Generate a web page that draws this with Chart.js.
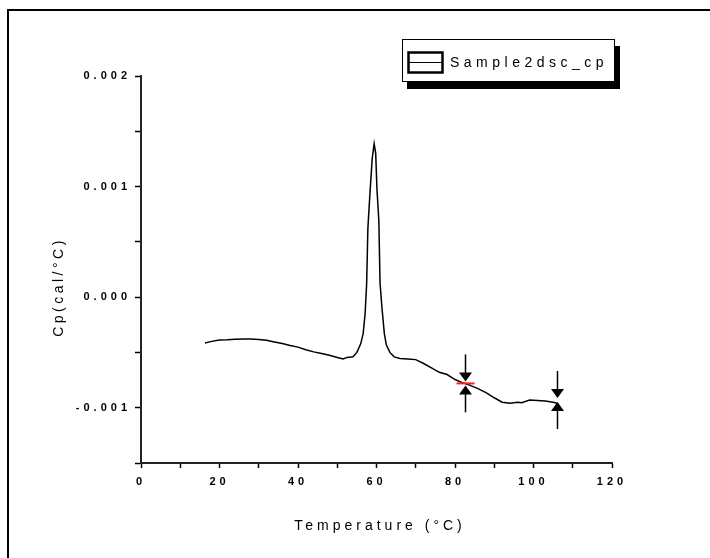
<!DOCTYPE html>
<html lang="en">
<head>
<meta charset="UTF-8">
<title>Sample2dsc_cp</title>
<script src="https://cdn.jsdelivr.net/npm/chart.js"></script>
<style>
    html, body { margin: 0; padding: 0; background: #fff; }
    #wrap { width: 710px; height: 558px; }
</style>
</head>
<body>
<div id="wrap"><canvas id="dscChart" width="710" height="558"></canvas></div>
<script>
// data
const seriesName = 'Sample2dsc_cp';
const temperature = [16.3, 18, 20, 22, 24, 26, 28, 30, 32, 34, 36, 38, 40, 42, 44, 46, 48, 50, 51.5, 52.5,
    54, 55, 56, 56.6, 57.1, 57.5, 57.8, 58.3, 58.9, 59.4, 59.8, 60.1, 60.6, 60.9, 61.4, 62, 62.5, 63.4, 64.5, 66,
    68, 70, 72, 74, 76, 78, 80, 82, 83, 84, 86, 88, 90, 92, 94, 96, 97, 99, 101, 103, 105, 106];
const cp = [-0.000414, -0.000400, -0.000388, -0.000385, -0.000380, -0.000378, -0.000378, -0.000382, -0.000390, -0.000405,
    -0.000420, -0.000438, -0.000452, -0.000475, -0.000495, -0.000510, -0.000525, -0.000545, -0.000560, -0.000545,
    -0.000540, -0.000500, -0.000420, -0.000330, -0.000150, 0.000130, 0.000620, 0.000920, 0.001250, 0.001387,
    0.001300, 0.000990, 0.000690, 0.000130, -0.000100, -0.000330, -0.000430, -0.000500, -0.000540, -0.000555,
    -0.000560, -0.000565, -0.000600, -0.000640, -0.000680, -0.000700, -0.000745, -0.000775, -0.000785, -0.000800,
    -0.000830, -0.000865, -0.000910, -0.000950, -0.000960, -0.000950, -0.000955, -0.000930, -0.000935, -0.000940,
    -0.000950, -0.000960];
const xTickLabels = ['0', '20', '40', '60', '80', '100', '120'];
const yTickLabels = ['-0.001', '0.000', '0.001', '0.002'];
// integration limits marked with arrows
const markerTemp = [82.5, 106];
const markerCp = [-0.00078, -0.00093];
const xTitle = 'Temperature (°C)';
const yTitle = 'Cp(cal/°C)';

const fontFamily = '"Liberation Sans", Arial, sans-serif';

// wide letter spacing like the old Origin export
const spacing = {
    id: 'spacing',
    beforeUpdate(chart) { chart.ctx.letterSpacing = '4px'; },
    beforeDraw(chart) { chart.ctx.letterSpacing = '4px'; }
};

function drawArrow(ctx, x, tipY, dir) {
    // dir 1 = pointing down, -1 = pointing up
    ctx.beginPath();
    ctx.moveTo(x, tipY - dir * 27);
    ctx.lineTo(x, tipY - dir * 8);
    ctx.stroke();
    ctx.beginPath();
    ctx.moveTo(x - 6.5, tipY - dir * 9);
    ctx.lineTo(x + 6.5, tipY - dir * 9);
    ctx.lineTo(x, tipY);
    ctx.closePath();
    ctx.fill();
}

const extras = {
    id: 'extras',
    afterDraw(chart) {
        const ctx = chart.ctx;
        const xs = chart.scales.x, ys = chart.scales.y;
        ctx.save();
        ctx.letterSpacing = '0px';

        // outer frame (open to the right and bottom)
        ctx.strokeStyle = '#000';
        ctx.lineWidth = 2;
        ctx.strokeRect(8, 10, 760, 600);

        // arrows
        ctx.fillStyle = '#000';
        ctx.lineWidth = 1.5;
        markerTemp.forEach((t, i) => {
            const px = Math.round(xs.getPixelForValue(t)) + 0.5;
            const py = ys.getPixelForValue(markerCp[i]);
            if (i === 0) {
                ctx.fillStyle = '#ff2020';
                ctx.fillRect(px - 9, py - 1, 18, 2);
                ctx.fillStyle = '#20c8d0';
                ctx.fillRect(px - 1.5, py - 7, 3, 3);
                ctx.fillRect(px - 1.5, py + 4, 3, 3);
                ctx.fillStyle = '#000';
            }
            drawArrow(ctx, px, py - 2, 1);
            drawArrow(ctx, px, py + 2, -1);
        });

        // legend with drop shadow
        ctx.fillStyle = '#000';
        ctx.fillRect(407, 46, 213, 43);
        ctx.fillStyle = '#fff';
        ctx.fillRect(402, 39, 213, 43);
        ctx.lineWidth = 1;
        ctx.strokeStyle = '#000';
        ctx.strokeRect(402.5, 39.5, 212, 42);
        ctx.lineWidth = 2.5;
        ctx.strokeRect(408.5, 52.5, 34, 20);
        ctx.lineWidth = 1;
        ctx.beginPath();
        ctx.moveTo(408, 62.5);
        ctx.lineTo(443, 62.5);
        ctx.stroke();
        ctx.fillStyle = '#000';
        ctx.font = '14px ' + fontFamily;
        ctx.letterSpacing = '4.5px';
        ctx.textAlign = 'left';
        ctx.textBaseline = 'alphabetic';
        ctx.fillText(chart.data.datasets[0].label, 450, 67);

        // axis titles
        ctx.font = '14px ' + fontFamily;
        ctx.letterSpacing = '4px';
        ctx.textAlign = 'center';
        ctx.fillText(xTitle, 380, 530);
        ctx.translate(63, 287);
        ctx.rotate(-Math.PI / 2);
        ctx.letterSpacing = '3.5px';
        ctx.fillText(yTitle, 0, 0);
        ctx.restore();
    }
};

const tickFont = { family: fontFamily, size: 11, weight: 'bold' };

new Chart(document.getElementById('dscChart'), {
    type: 'line',
    data: {
        datasets: [{
            label: seriesName,
            data: temperature.map((t, i) => ({ x: t, y: cp[i] })),
            borderColor: '#000',
            borderWidth: 1.5,
            pointRadius: 0,
            tension: 0,
            fill: false
        }]
    },
    options: {
        responsive: false,
        animation: false,
        layout: { padding: { top: 76, right: 98, left: 0, bottom: 0 } },
        plugins: {
            legend: { display: false },
            tooltip: { enabled: false }
        },
        scales: {
            x: {
                type: 'linear',
                min: 0,
                max: 120,
                afterFit(scale) { scale.height = 95; },
                ticks: {
                    stepSize: 10,
                    autoSkip: false,
                    maxRotation: 0,
                    padding: 7,
                    color: '#000',
                    font: tickFont,
                    callback: v => xTickLabels.includes(String(v)) ? String(v) : ''
                },
                grid: { drawOnChartArea: false, drawTicks: true, tickLength: 5, tickColor: '#000', tickWidth: 1.5 },
                border: { display: true, color: '#222', width: 2 }
            },
            y: {
                min: -0.0015,
                max: 0.002,
                afterFit(scale) { scale.width = 141; },
                ticks: {
                    stepSize: 0.0005,
                    autoSkip: false,
                    padding: 4,
                    color: '#000',
                    font: tickFont,
                    callback: v => {
                        const k = Math.round(v * 2000);
                        if (k % 2 !== 0) return '';
                        const label = (k / 2000).toFixed(3);
                        return yTickLabels.includes(label) ? label : '';
                    }
                },
                grid: { drawOnChartArea: false, drawTicks: true, tickLength: 6, tickColor: '#000', tickWidth: 1.5 },
                border: { display: true, color: '#222', width: 2 }
            }
        }
    },
    plugins: [spacing, extras]
});
</script>
</body>
</html>
